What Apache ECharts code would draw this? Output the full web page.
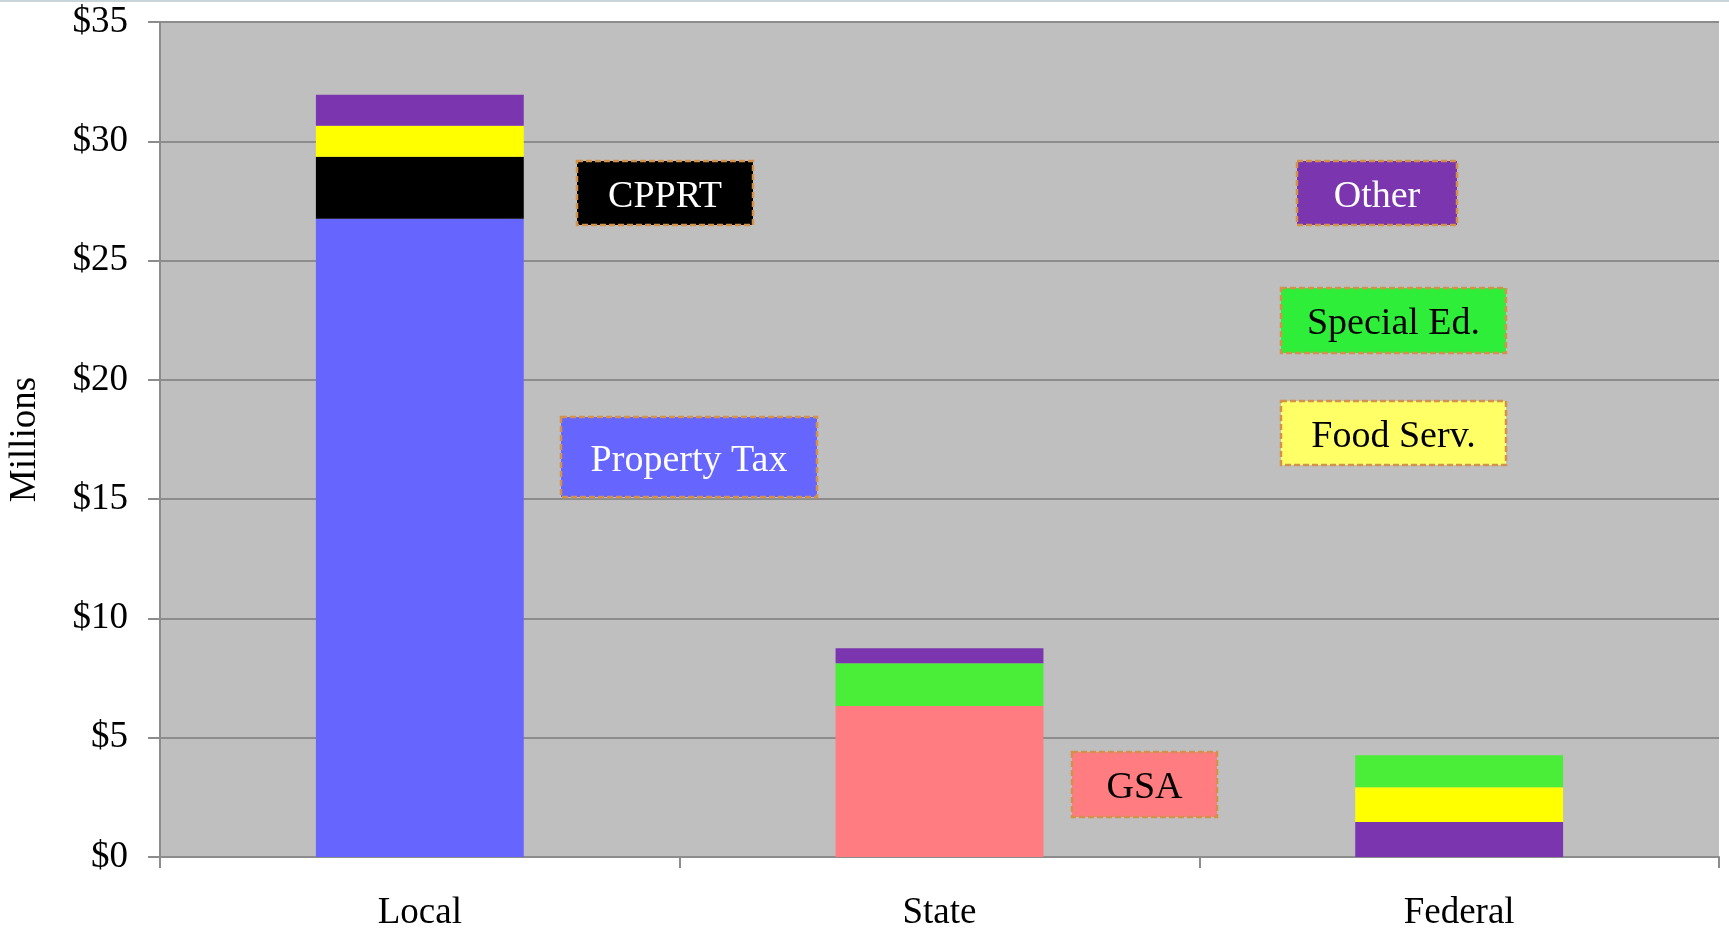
<!DOCTYPE html>
<html>
<head>
<meta charset="utf-8">
<style>
  html, body { margin: 0; padding: 0; background: #ffffff; }
  #chart { width: 1729px; height: 930px; }
</style>
<script src="https://cdn.jsdelivr.net/npm/echarts@6/dist/echarts.min.js"></script>
</head>
<body>
<div id="chart"></div>
<script>
// ---- data (millions of dollars) ----
const categories = ['Local', 'State', 'Federal'];
const propertyTax = [26.75, null, null];
const gsa         = [null, 6.33, null];
const fedOther    = [null, null, 1.47];
const cpprt       = [2.6, null, null];
const foodServ    = [1.3, null, 1.45];
const specialEd   = [null, 1.79, 1.34];
const other       = [1.3, 0.63, null];
const yTicks      = [0, 5, 10, 15, 20, 25, 30, 35];

const FONT = 'Liberation Serif, Times New Roman, serif';
const GREEN = '#4AED38', YELLOW = '#FFFF00', PURPLE = '#7B35AF', BLUE = '#6666FF', PINK = '#FF7C80';

const chart = echarts.init(document.getElementById('chart'));

function bar(name, data, color) {
  return {
    name: name, type: 'bar', stack: 'total', data: data,
    barWidth: '40%', itemStyle: { color: color }, emphasis: { disabled: true }
  };
}

// annotation boxes (pixel layout)
const notes = [
  { text: 'CPPRT',        fill: '#000000', color: '#ffffff', x: 577,  y: 161, w: 176, h: 64 },
  { text: 'Property Tax', fill: BLUE,      color: '#ffffff', x: 561,  y: 417, w: 256, h: 80 },
  { text: 'GSA',          fill: PINK,      color: '#000000', x: 1072, y: 752, w: 145, h: 65 },
  { text: 'Other',        fill: PURPLE,    color: '#ffffff', x: 1297, y: 161, w: 160, h: 64 },
  { text: 'Special Ed.',  fill: '#2EEE3A', color: '#000000', x: 1281, y: 288, w: 225, h: 65 },
  { text: 'Food Serv.',   fill: '#FFFF66', color: '#000000', x: 1281, y: 401, w: 225, h: 64 }
];

const graphics = [
  { type: 'rect', left: 0, top: 0, shape: { width: 1729, height: 2 }, style: { fill: '#C9D3DA' }, silent: true }
];
notes.forEach(n => {
  graphics.push({
    type: 'rect', x: n.x, y: n.y, z: 100,
    shape: { width: n.w, height: n.h },
    style: { fill: n.fill, stroke: '#D4914A', lineWidth: 2.5, lineDash: [6, 3] },
    silent: true
  });
  graphics.push({
    type: 'text', x: n.x + n.w / 2, y: n.y + n.h / 2 + 4, z: 101,
    style: { text: n.text, fill: n.color, font: '38px ' + FONT, align: 'center', verticalAlign: 'middle' },
    silent: true
  });
});

chart.setOption({
  animation: false,
  backgroundColor: '#ffffff',
  grid: {
    left: 160, top: 22, right: 10, bottom: 73, show: true, backgroundColor: '#BFBFBF', borderWidth: 0,
    containLabel: false, outerBoundsMode: 'none'
  },
  xAxis: {
    type: 'category', data: categories, boundaryGap: true,
    axisLine: { show: true, lineStyle: { color: '#8C8C8C', width: 2 } },
    axisTick: { show: true, length: 11, alignWithLabel: false, lineStyle: { color: '#8C8C8C', width: 2 } },
    axisLabel: { color: '#000', fontFamily: FONT, fontSize: 37, margin: 38 },
    splitLine: { show: false }
  },
  yAxis: {
    type: 'value', min: 0, max: 35, interval: 5,
    name: 'Millions', nameLocation: 'middle', nameGap: 116, nameRotate: 90,
    nameTextStyle: { color: '#000', fontFamily: FONT, fontSize: 37 },
    axisLine: { show: true, lineStyle: { color: '#8C8C8C', width: 2 } },
    axisTick: { show: true, length: 12, lineStyle: { color: '#8C8C8C', width: 2 } },
    axisLabel: {
      color: '#000', fontFamily: FONT, fontSize: 37, margin: 32,
      formatter: v => yTicks.indexOf(v) >= 0 ? '$' + v : ''
    },
    splitLine: { show: true, lineStyle: { color: '#8C8C8C', width: 2 } }
  },
  series: [
    bar('Property Tax', propertyTax, BLUE),
    bar('GSA', gsa, PINK),
    bar('Other (Federal)', fedOther, PURPLE),
    bar('CPPRT', cpprt, '#000000'),
    bar('Food Serv.', foodServ, YELLOW),
    bar('Special Ed.', specialEd, GREEN),
    bar('Other', other, PURPLE)
  ],
  graphic: graphics
});
</script>
</body>
</html>
